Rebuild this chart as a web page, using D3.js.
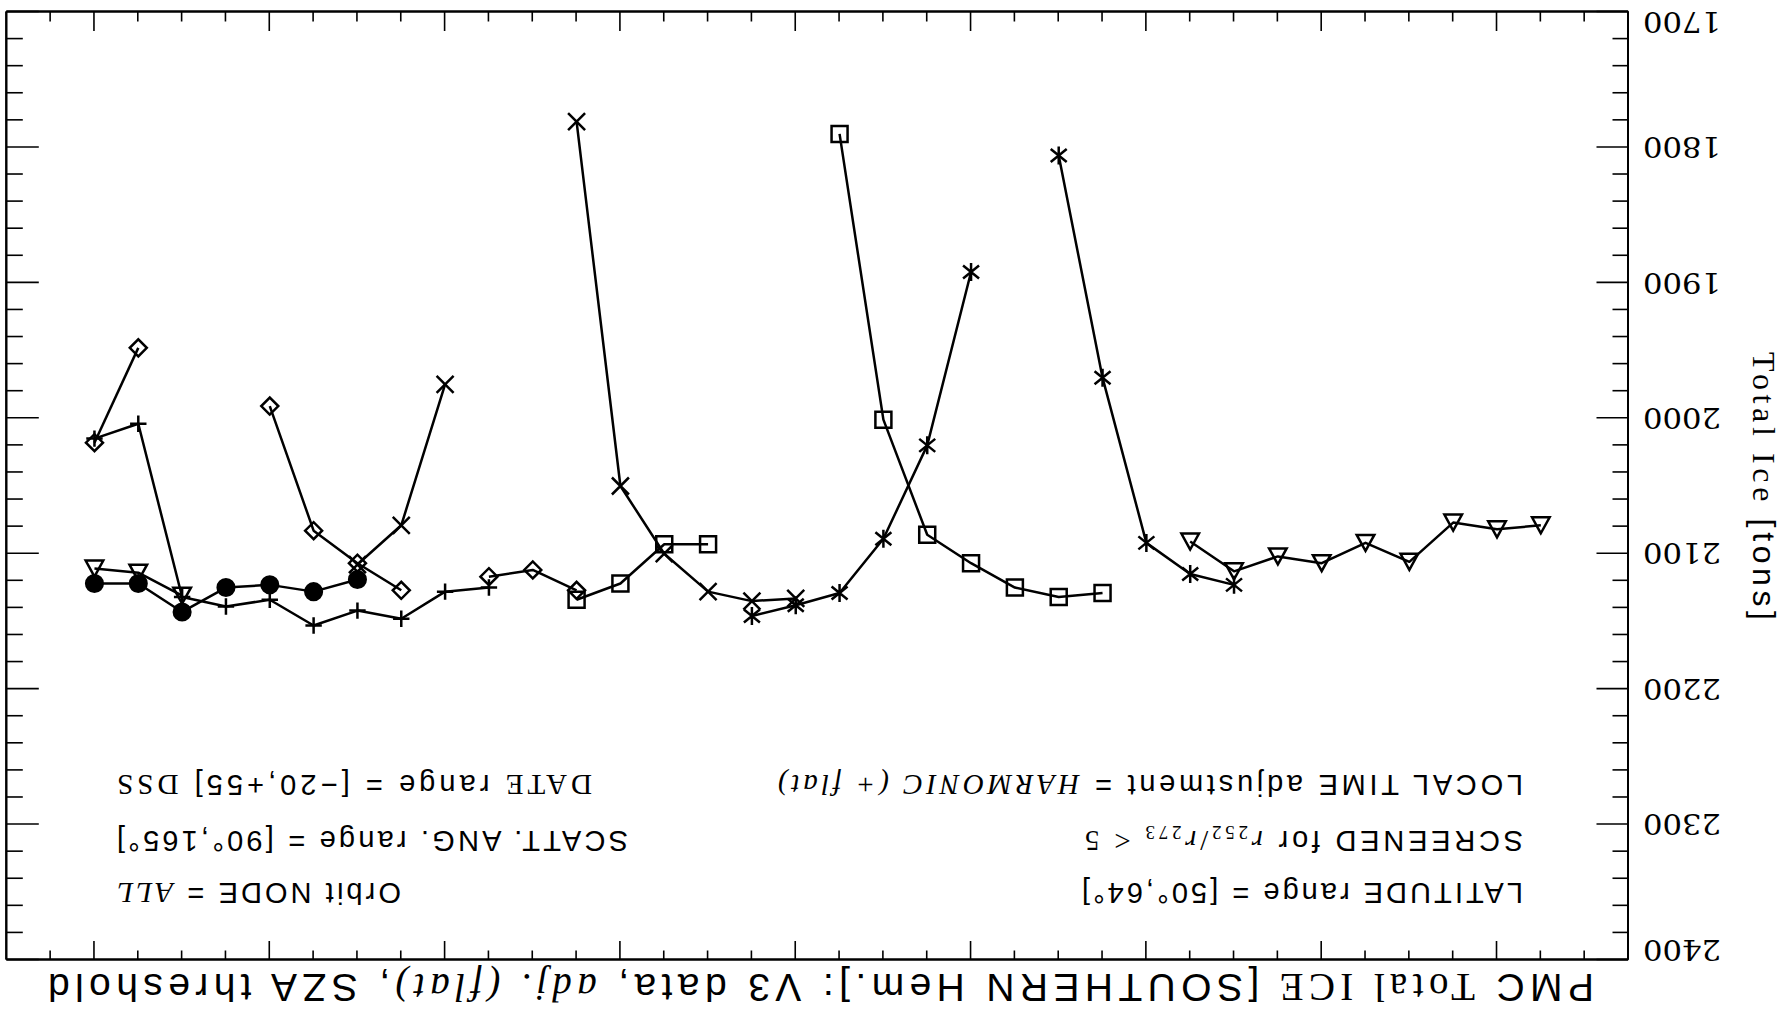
<!DOCTYPE html>
<html>
<head>
<meta charset="utf-8">
<script src="https://cdn.jsdelivr.net/npm/d3@7"></script>
<style>
  body { margin: 0; background: #fff; }
  svg { display: block; }
</style>
</head>
<body>
<script>
// ---- axis ticks ----
const yTickLabels = [1700, 1800, 1900, 2000, 2100, 2200, 2300, 2400];
const xMajorTicks = [1, 5, 9, 13, 17, 21, 25, 29, 33];

// ---- series: sample index along the date axis, total ice [tons] ----
const triX1 = [0, 1, 2, 3, 4, 5, 6, 7, 8];
const triV1 = [2079, 2082, 2077, 2106, 2092, 2107, 2102, 2113, 2091];
const astX1 = [7, 8, 9, 10, 11];
const astV1 = [2123, 2115, 2092, 1970, 1806];
const sqrX1 = [10, 11, 12, 13, 14, 15, 16];
const sqrV1 = [2129, 2132, 2125, 2107, 2086, 2001, 1790];
const astX2 = [13, 14, 15, 16, 17, 18];
const astV2 = [1892, 2020, 2089, 2129, 2138, 2146];
const crsX1 = [17, 18, 19, 20, 21, 22];
const crsV1 = [2133, 2135, 2128, 2100, 2050, 1781];
const sqrX2 = [19, 20, 21, 22];
const sqrV2 = [2093, 2093, 2122, 2134];
const dmdX1 = [22, 23, 24];
const dmdV1 = [2127, 2112, 2117];
const crsX2 = [25, 26, 27];
const crsV2 = [1975, 2079, 2108];
const dmdX2 = [26, 27, 28, 29];
const dmdV2 = [2127, 2107, 2083, 1991];
const plsX1 = [24, 25, 26, 27, 28, 29, 30, 31, 32, 33];
const plsV1 = [2125, 2128, 2148, 2142, 2153, 2134, 2139, 2132, 2004, 2015];
const dmdX3 = [32, 33];
const dmdV3 = [1948, 2018];
const triX2 = [31, 32, 33];
const triV2 = [2131, 2114, 2111];
const dotX1 = [27, 28, 29, 30, 31, 32, 33];
const dotV1 = [2119, 2128, 2123, 2125, 2143, 2122, 2122];

// ---- page and plot frame ----
const W = 1785, H = 1029;
const frame = { left: 156.5, right: 1778.2, top: 69, bottom: 1017 };

const SANS = "'Liberation Sans', Arial, sans-serif";
const SERIF = "'Liberation Serif', 'Times New Roman', serif";
const NUMF = "'DejaVu Serif', serif";

const svg = d3.select("body").append("svg")
  .attr("width", W).attr("height", H)
  .attr("viewBox", `0 0 ${W} ${H}`);

svg.append("rect").attr("width", W).attr("height", H).attr("fill", "#fff");

// the whole figure is printed turned half a revolution
const root = svg.append("g").attr("transform", `rotate(180 ${W / 2} ${H / 2})`);

const x = d3.scaleLinear().domain([-2, 35]).range([frame.left, frame.right]);
const y = d3.scaleLinear().domain([1700, 2400]).range([frame.bottom, frame.top]);

const yMinor = d3.range(1700, 2401, 20).filter(v => !yTickLabels.includes(v));
const xMinor = d3.range(-1, 35).filter(v => !xMajorTicks.includes(v));

function styleAxis(g) {
  g.selectAll(".domain").attr("stroke", "#000").attr("stroke-width", 2);
  g.selectAll(".tick line").attr("stroke", "#000").attr("stroke-width", 1.6);
}

// left axis with labels; the end labels are kept inside the frame
const [yLo, yHi] = y.domain();
root.append("g")
  .attr("transform", `translate(${frame.left},0)`)
  .call(d3.axisLeft(y).tickValues(yTickLabels).tickSize(-32).tickSizeOuter(0).tickPadding(14.5)
        .tickFormat(d3.format("d")))
  .call(styleAxis)
  .call(g => g.selectAll(".tick text")
    .attr("font-family", NUMF).attr("font-size", 27)
    .attr("textLength", 78).attr("lengthAdjust", "spacingAndGlyphs")
    .attr("dy", d => d === yLo ? "-0.02em" : d === yHi ? "0.74em" : "0.36em")
    .attr("fill", "#000"));
root.append("g")
  .attr("transform", `translate(${frame.left},0)`)
  .call(d3.axisLeft(y).tickValues(yMinor).tickSize(-16).tickSizeOuter(0).tickFormat(""))
  .call(styleAxis);

// right axis, ticks only
root.append("g")
  .attr("transform", `translate(${frame.right},0)`)
  .call(d3.axisRight(y).tickValues(yTickLabels).tickSize(-32).tickSizeOuter(0).tickFormat(""))
  .call(styleAxis);
root.append("g")
  .attr("transform", `translate(${frame.right},0)`)
  .call(d3.axisRight(y).tickValues(yMinor).tickSize(-16).tickSizeOuter(0).tickFormat(""))
  .call(styleAxis);

// bottom and top axes, ticks only
root.append("g")
  .attr("transform", `translate(0,${frame.bottom})`)
  .call(d3.axisBottom(x).tickValues(xMajorTicks).tickSize(-19).tickSizeOuter(0).tickFormat(""))
  .call(styleAxis);
root.append("g")
  .attr("transform", `translate(0,${frame.bottom})`)
  .call(d3.axisBottom(x).tickValues(xMinor).tickSize(-9.5).tickSizeOuter(0).tickFormat(""))
  .call(styleAxis);
root.append("g")
  .attr("transform", `translate(0,${frame.top})`)
  .call(d3.axisTop(x).tickValues(xMajorTicks).tickSize(-19).tickSizeOuter(0).tickFormat(""))
  .call(styleAxis);
root.append("g")
  .attr("transform", `translate(0,${frame.top})`)
  .call(d3.axisTop(x).tickValues(xMinor).tickSize(-9.5).tickSizeOuter(0).tickFormat(""))
  .call(styleAxis);

// ---- plot symbols ----
const symDiamond = { draw(c, s) { const r = 8.5; c.moveTo(0, -r); c.lineTo(r, 0); c.lineTo(0, r); c.lineTo(-r, 0); c.closePath(); } };
const symPlus = { draw(c, s) { const r = 8.2; c.moveTo(-r, 0); c.lineTo(r, 0); c.moveTo(0, -r); c.lineTo(0, r); } };
const symSquare = { draw(c, s) { const r = 8; c.moveTo(-r, -r); c.lineTo(r, -r); c.lineTo(r, r); c.lineTo(-r, r); c.closePath(); } };
const symTriangle = { draw(c, s) { c.moveTo(0, -8); c.lineTo(8.8, 8); c.lineTo(-8.8, 8); c.closePath(); } };
const symTimes = { draw(c, s) { const r = 8.5; c.moveTo(-r, -r); c.lineTo(r, r); c.moveTo(-r, r); c.lineTo(r, -r); } };
const symAsterisk = { draw(c, s) { c.moveTo(0, -9); c.lineTo(0, 9); c.moveTo(-8, -6.5); c.lineTo(8, 6.5); c.moveTo(-8, 6.5); c.lineTo(8, -6.5); } };
const symDot = { draw(c, s) { c.moveTo(8.3, 0); c.arc(0, 0, 8.3, 0, 2 * Math.PI); } };

const series = [
  { xs: triX1, vs: triV1, sym: symTriangle },
  { xs: astX1, vs: astV1, sym: symAsterisk },
  { xs: sqrX1, vs: sqrV1, sym: symSquare },
  { xs: astX2, vs: astV2, sym: symAsterisk },
  { xs: crsX1, vs: crsV1, sym: symTimes },
  { xs: sqrX2, vs: sqrV2, sym: symSquare },
  { xs: dmdX1, vs: dmdV1, sym: symDiamond },
  { xs: crsX2, vs: crsV2, sym: symTimes },
  { xs: dmdX2, vs: dmdV2, sym: symDiamond },
  { xs: plsX1, vs: plsV1, sym: symPlus },
  { xs: dmdX3, vs: dmdV3, sym: symDiamond },
  { xs: triX2, vs: triV2, sym: symTriangle },
  { xs: dotX1, vs: dotV1, sym: symDot, filled: true }
];

const line = d3.line().x(d => x(d[0])).y(d => y(d[1]));
const plot = root.append("g");

series.forEach(s => {
  const pts = s.xs.map((xi, k) => [xi, s.vs[k]]);
  plot.append("path")
    .attr("d", line(pts))
    .attr("fill", "none").attr("stroke", "#000").attr("stroke-width", 2.5)
    .attr("stroke-linejoin", "round");
  plot.selectAll(null).data(pts).join("path")
    .attr("transform", d => `translate(${x(d[0])},${y(d[1])})`)
    .attr("d", d3.symbol().type(s.sym))
    .attr("fill", s.filled ? "#000" : "none")
    .attr("stroke", "#000").attr("stroke-width", 2.5);
});

// ---- title ----
const title = root.append("text")
  .attr("x", 191).attr("y", 55)
  .attr("font-size", 39).attr("fill", "#000")
  .attr("textLength", 1546).attr("lengthAdjust", "spacing");
[
  ["PMC ", SANS, "normal"],
  ["Total ICE ", SERIF, "normal"],
  ["[SOUTHERN Hem.]:  V3 data, ", SANS, "normal"],
  ["adj. (flat)", SERIF, "italic"],
  [", SZA threshold", SANS, "normal"]
].forEach(([t, f, st]) => title.append("tspan").attr("font-family", f).attr("font-style", st).text(t));

// ---- y axis title ----
const ylab = root.append("text")
  .attr("transform", `translate(32,543) rotate(-90)`)
  .attr("text-anchor", "middle").attr("font-size", 32).attr("fill", "#000")
  .attr("textLength", 268).attr("lengthAdjust", "spacing");
ylab.append("tspan").attr("font-family", SERIF).text("Total Ice ");
ylab.append("tspan").attr("font-family", SANS).text("[tons]");

// ---- selection notes ----
function note(xpos, ypos, anchor, len, parts) {
  const t = root.append("text")
    .attr("x", xpos).attr("y", ypos).attr("text-anchor", anchor)
    .attr("font-size", 29).attr("fill", "#000")
    .attr("textLength", len).attr("lengthAdjust", "spacing");
  parts.forEach(p => {
    const sp = t.append("tspan").attr("font-family", p.f || SANS).text(p.t);
    if (p.it) sp.attr("font-style", "italic");
    if (p.sub) sp.attr("font-size", 19).attr("baseline-shift", "-25%");
  });
}

note(262, 146, "start", 441, [{ t: "LATITUDE range = [50°,64°]" }]);
note(262, 198, "start", 438, [
  { t: "SCREENED for " },
  { t: "r", f: SERIF, it: true }, { t: "252", f: SERIF, sub: true },
  { t: "/", f: SERIF }, { t: "r", f: SERIF, it: true }, { t: "273", f: SERIF, sub: true },
  { t: " < 5", f: SERIF }
]);
note(262, 254, "start", 745, [
  { t: "LOCAL TIME adjustment = " },
  { t: "HARMONIC (+ flat)", f: SERIF, it: true }
]);

note(1668, 146, "end", 284, [{ t: "Orbit NODE = " }, { t: "ALL", f: SERIF, it: true }]);
note(1668, 198, "end", 511, [{ t: "SCATT. ANG. range = [90°,165°]" }]);
note(1668, 254, "end", 475, [
  { t: "DATE", f: SERIF }, { t: " range = [−20,+55] " }, { t: "DSS", f: SERIF }
]);
</script>
</body>
</html>
